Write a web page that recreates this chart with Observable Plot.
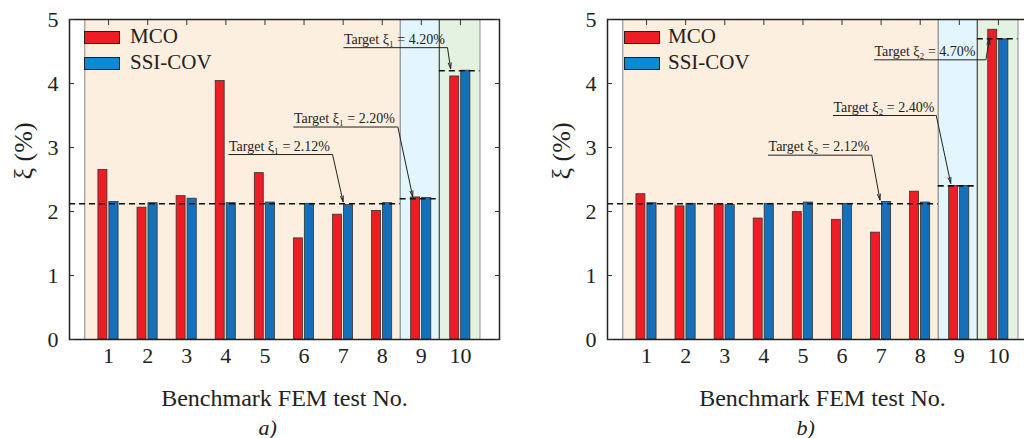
<!DOCTYPE html>
<html>
<head>
<meta charset="utf-8">
<script src="https://cdn.jsdelivr.net/npm/d3@7"></script>
<script src="https://cdn.jsdelivr.net/npm/@observablehq/plot@0.6"></script>
<style>
  html, body { margin: 0; padding: 0; background: #fff; overflow: hidden; }
  #wrap { width: 1024px; height: 438px; display: flex; overflow: hidden; }
  .panel { position: relative; width: 538px; height: 438px; flex: 0 0 538px; }
  .panel svg text { font-family: "Liberation Serif", "Times New Roman", serif; }
  .leg { position: absolute; font-family: "Liberation Serif", "Times New Roman", serif; font-size: 21px; line-height: 21px; color: #222; white-space: nowrap; }
  .sw { position: absolute; width: 34px; height: 11px; border: 1px solid #222; }
</style>
</head>
<body>
<div id="wrap"></div>
<script>
// ---- data ----
const tests = [1, 2, 3, 4, 5, 6, 7, 8, 9, 10];
const mcoA = [2.65, 2.06, 2.24, 4.04, 2.60, 1.58, 1.95, 2.01, 2.22, 4.11];
const ssiA = [2.15, 2.13, 2.20, 2.13, 2.14, 2.12, 2.10, 2.13, 2.21, 4.20];
const mcoB = [2.27, 2.08, 2.11, 1.89, 1.99, 1.87, 1.67, 2.31, 2.40, 4.84];
const ssiB = [2.13, 2.12, 2.10, 2.12, 2.14, 2.12, 2.15, 2.14, 2.40, 4.69];
const targetsA = [2.12, 2.20, 4.20];
const targetsB = [2.12, 2.40, 4.70];
const yTicks = [0, 1, 2, 3, 4, 5];
const seriesNames = ["MCO", "SSI-COV"];
// background zones (x extent in test units)
const zoneStart = [0.39, 8.46, 9.46];
const zoneEnd = [8.46, 9.46, 10.5];
const zoneFill = ["#fdefdf", "#e3f5fd", "#e4f2e1"];
const lineStart = [0, 8.46, 9.46];
// annotation anchors: underline start/end, underline level, arrow tip
const annA = [
  {label: "Target ξ₁ = 2.12%", u1: 4.08, u2: 6.73, uy: 2.89, tx: 7.00, ty: 2.15},
  {label: "Target ξ₁ = 2.20%", u1: 5.74, u2: 8.40, uy: 3.32, tx: 8.78, ty: 2.23},
  {label: "Target ξ₁ = 4.20%", u1: 7.02, u2: 9.67, uy: 4.56, tx: 9.75, ty: 4.23}
];
const annB = [
  {label: "Target ξ₂ = 2.12%", u1: 4.12, u2: 6.76, uy: 2.88, tx: 6.97, ty: 2.18},
  {label: "Target ξ₂ = 2.40%", u1: 5.78, u2: 8.41, uy: 3.50, tx: 8.78, ty: 2.44},
  {label: "Target ξ₂ = 4.70%", u1: 6.83, u2: 9.68, uy: 4.37, tx: 9.77, ty: 4.70}
];

const RED = "#ee1c25", BLUE = "#1570b9", LEGBLUE = "#0b8ad4";
const FONT = "Liberation Serif, Times New Roman, serif";

function panel(mco, ssi, targets, ann, letter) {
  const bars = tests.flatMap((t, i) => [
    {test: t, series: "MCO", value: mco[i]},
    {test: t, series: "SSI-COV", value: ssi[i]}
  ]);
  const zones = zoneStart.map((s, i) => ({x1: s, x2: zoneEnd[i], fill: zoneFill[i]}));
  const tlines = targets.map((v, i) => ({y: v, x1: lineStart[i], x2: zoneEnd[i]}));
  const borders = [
    {x: zoneStart[0], c: "#9a9a9a"},
    {x: zoneStart[1], c: "#8a8a8a"},
    {x: zoneStart[2], c: "#444"},
    {x: zoneEnd[2], c: "#9a9a9a"}
  ];
  return Plot.plot({
    width: 538, height: 438,
    marginLeft: 69, marginRight: 39, marginTop: 19, marginBottom: 99,
    style: {fontFamily: FONT, color: "#222", background: "transparent", overflow: "visible"},
    x: {type: "linear", domain: [0, 11]},
    y: {domain: [0, 5]},
    marks: [
      Plot.rect(zones, {x1: "x1", x2: "x2", y1: 0, y2: 5, fill: d => d.fill}),
      Plot.ruleX(borders, {x: "x", y1: 0, y2: 5, stroke: d => d.c, strokeWidth: 1.2}),
      Plot.rectY(bars, {
        x1: d => d.series === "MCO" ? d.test - 0.26 : d.test + 0.02,
        x2: d => d.series === "MCO" ? d.test - 0.03 : d.test + 0.255,
        y: "value",
        fill: d => d.series === "MCO" ? RED : BLUE,
        stroke: "#333", strokeWidth: 0.8
      }),
      Plot.ruleY(tlines, {y: "y", x1: "x1", x2: "x2", stroke: "#111", strokeWidth: 1.6, strokeDasharray: "6,4"}),
      Plot.ruleY(ann, {y: "uy", x1: "u1", x2: "u2", stroke: "#222", strokeWidth: 1}),
      Plot.arrow(ann, {x1: "u2", y1: "uy", x2: "tx", y2: "ty", stroke: "#222", strokeWidth: 1, headLength: 9, headAngle: 28}),
      Plot.text(ann, {x: "u1", y: "uy", text: "label", textAnchor: "start", lineAnchor: "bottom", dy: -4, fontSize: 14, fill: "#222"}),
      Plot.frame({stroke: "#222", strokeWidth: 1.5}),
      Plot.axisY({ticks: yTicks, tickSize: -5, tickPadding: 16, tickFormat: d => String(d), fontSize: 22, label: null, stroke: "#333"}),
      Plot.axisY({anchor: "right", ticks: yTicks, tickSize: -5, tickFormat: () => "", label: null, stroke: "#333"}),
      Plot.axisX({anchor: "top", ticks: tests, tickSize: -5, tickFormat: () => "", label: null, stroke: "#333"}),
      Plot.axisX({ticks: tests, tickSize: 0, tickPadding: 8, tickFormat: d => String(d), fontSize: 22, label: null}),
      Plot.text(["ξ (%)"], {frameAnchor: "left", dx: -46, rotate: -90, fontSize: 26, fill: "#222"}),
      Plot.text(["Benchmark FEM test No."], {frameAnchor: "bottom", dy: 66, lineAnchor: "bottom", fontSize: 24, fill: "#222"}),
      Plot.text([letter], {frameAnchor: "bottom-left", dx: 189, dy: 95, lineAnchor: "bottom", fontSize: 22, fontStyle: "italic", fill: "#222"})
    ]
  });
}

function legend(div, swLeft, txtLeft) {
  const cols = [RED, LEGBLUE];
  seriesNames.forEach((name, i) => {
    const sw = document.createElement("div");
    sw.className = "sw";
    sw.style.left = swLeft + "px";
    sw.style.top = (31 + i * 26) + "px";
    sw.style.background = cols[i];
    div.appendChild(sw);
    const t = document.createElement("div");
    t.className = "leg";
    t.textContent = name;
    t.style.left = txtLeft + "px";
    t.style.top = (26 + i * 26) + "px";
    div.appendChild(t);
  });
}

const wrap = document.getElementById("wrap");
[[mcoA, ssiA, targetsA, annA, "a)"], [mcoB, ssiB, targetsB, annB, "b)"]].forEach((args, k) => {
  const div = document.createElement("div");
  div.className = "panel";
  div.appendChild(panel(...args));
  legend(div, 84 + k * 1.5, 130);
  wrap.appendChild(div);
});
</script>
</body>
</html>
